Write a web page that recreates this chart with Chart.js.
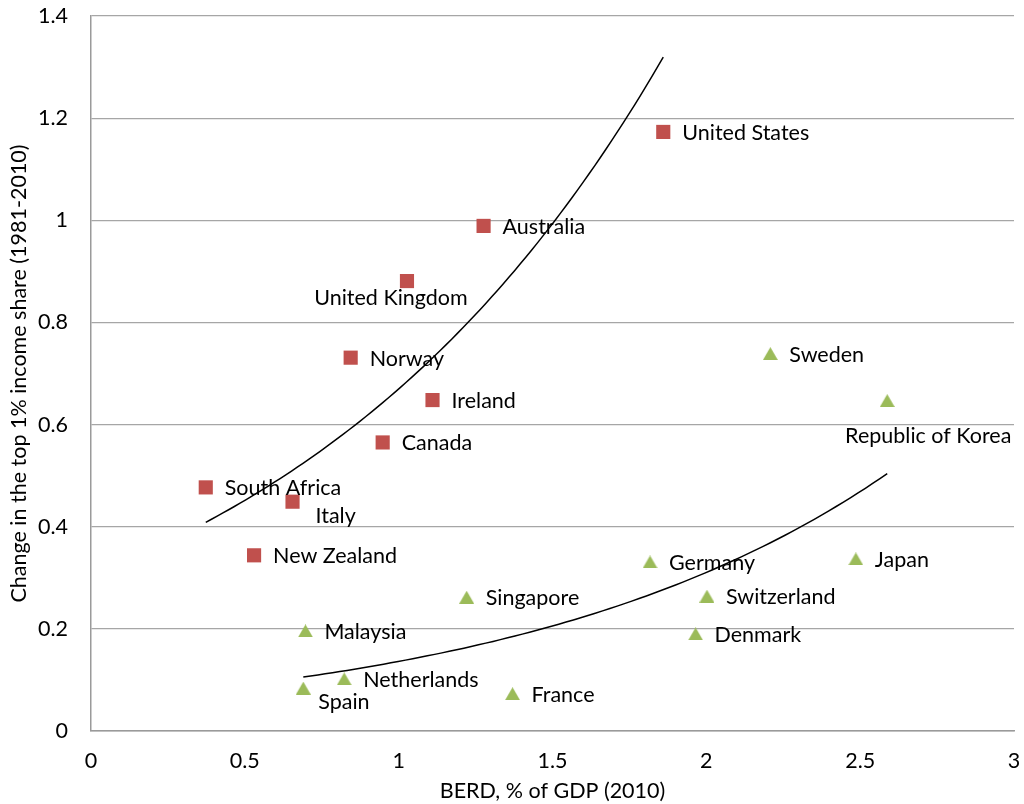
<!DOCTYPE html>
<html>
<head>
<meta charset="utf-8">
<script src="https://cdn.jsdelivr.net/npm/chart.js@4/dist/chart.umd.min.js"></script>
<style>
  html, body { margin: 0; padding: 0; background: #fff; }
  #wrap { width: 1024px; height: 804px; }
</style>
</head>
<body>
<div id="wrap"><canvas id="chart" width="1024" height="804"></canvas></div>
<script>
// high-inequality-growth group (red squares)
const redNames = ['United States', 'Australia', 'United Kingdom', 'Norway', 'Ireland',
                  'Canada', 'South Africa', 'Italy', 'New Zealand'];
const redBerd  = [1.860, 1.276, 1.027, 0.844, 1.110, 0.948, 0.373, 0.655, 0.530];
const redShare = [1.173, 0.989, 0.881, 0.731, 0.648, 0.565, 0.477, 0.449, 0.344];

// green triangles
const greenNames = ['Sweden', 'Republic of Korea', 'Germany', 'Japan', 'Singapore',
                    'Switzerland', 'Malaysia', 'Denmark', 'Netherlands', 'Spain', 'France'];
const greenBerd  = [2.208, 2.588, 1.817, 2.486, 1.221, 2.002, 0.697, 1.965, 0.823, 0.690, 1.370];
const greenShare = [0.739, 0.647, 0.331, 0.337, 0.262, 0.264, 0.196, 0.190, 0.102, 0.084, 0.073];

const xTicks = [0, 0.5, 1, 1.5, 2, 2.5, 3];
const yTicks = [0, 0.2, 0.4, 0.6, 0.8, 1, 1.2, 1.4];

const RED = '#C0504D';
const GREEN = '#9BBB59';
const FONT = 'Lato';
const FS = 21.5;

// exponential trend (least squares on ln y), like a spreadsheet trendline
function expTrend(xs, ys, steps) {
  const n = xs.length;
  const ly = ys.map(v => Math.log(v));
  const mx = xs.reduce((a, b) => a + b) / n;
  const my = ly.reduce((a, b) => a + b) / n;
  let sxy = 0, sxx = 0;
  xs.forEach((x, i) => { sxy += (x - mx) * (ly[i] - my); sxx += (x - mx) * (x - mx); });
  const b = sxy / sxx;
  const a = Math.exp(my - b * mx);
  const lo = Math.min(...xs), hi = Math.max(...xs);
  const out = [];
  for (let i = 0; i <= steps; i++) {
    const x = lo + (hi - lo) * i / steps;
    out.push({ x, y: a * Math.exp(b * x) });
  }
  return out;
}

function triangleMarker(color) {
  const c = document.createElement('canvas');
  c.width = 15; c.height = 13;
  const g = c.getContext('2d');
  g.fillStyle = color;
  g.beginPath();
  g.moveTo(7.5, 0);
  g.lineTo(15, 13);
  g.lineTo(0, 13);
  g.closePath();
  g.fill();
  return c;
}

const pts = (xs, ys) => xs.map((x, i) => ({ x, y: ys[i] }));

// label placement: default is to the right of the marker
const labelPos = {
  'United Kingdom':    { dx: -16, dy: 17, align: 'center' },
  'Italy':             { dx: 23, dy: 14 },
  'Spain':             { dx: 15, dy: 14 },
  'Republic of Korea': { dx: 41, dy: 35, align: 'center' }
};

const pointLabels = {
  id: 'pointLabels',
  afterDatasetsDraw(chart) {
    const ctx = chart.ctx;
    ctx.save();
    ctx.font = `${FS}px ${FONT}`;
    ctx.fillStyle = '#000';
    ctx.textBaseline = 'middle';
    chart.data.datasets.forEach((ds, di) => {
      if (!ds.names) return;
      chart.getDatasetMeta(di).data.forEach((el, i) => {
        const name = ds.names[i];
        const p = labelPos[name] || { dx: 19, dy: 1 };
        ctx.textAlign = p.align || 'left';
        ctx.fillText(name, el.x + p.dx, el.y + p.dy);
      });
    });
    ctx.restore();
  }
};

function noPad(s) {
  s.paddingTop = 0; s.paddingBottom = 0; s.paddingLeft = 0; s.paddingRight = 0;
}

new Chart(document.getElementById('chart'), {
  type: 'scatter',
  data: {
    datasets: [
      {
        data: expTrend(redBerd, redShare, 80),
        showLine: true, borderColor: '#000', borderWidth: 1.5,
        pointRadius: 0, fill: false, order: 1
      },
      {
        data: expTrend(greenBerd, greenShare, 80),
        showLine: true, borderColor: '#000', borderWidth: 1.5,
        pointRadius: 0, fill: false, order: 1
      },
      {
        data: pts(redBerd, redShare), names: redNames,
        pointStyle: 'rect', pointRadius: 10, pointHoverRadius: 10,
        backgroundColor: RED, borderColor: RED, borderWidth: 0, order: 2
      },
      {
        data: pts(greenBerd, greenShare), names: greenNames,
        pointStyle: triangleMarker(GREEN), pointRadius: 8,
        backgroundColor: GREEN, borderColor: GREEN, borderWidth: 0, order: 2
      }
    ]
  },
  options: {
    responsive: false,
    animation: false,
    layout: { padding: { top: 16, right: 5, left: 0, bottom: 0 } },
    plugins: { legend: { display: false }, tooltip: { enabled: false } },
    scales: {
      x: {
        min: 0, max: 3,
        afterBuildTicks: s => { s.ticks = xTicks.map(v => ({ value: v })); },
        afterFit: s => { s.height = 73; noPad(s); },
        grid: { display: false, drawTicks: false },
        border: { display: true, color: '#9a9a9a', width: 1.5 },
        ticks: { padding: 17, color: '#000', font: { family: FONT, size: FS }, maxRotation: 0,
                 callback: v => String(v) },
        title: { display: true, text: 'BERD, % of GDP (2010)', color: '#000',
                 font: { family: FONT, size: FS }, padding: { top: 0, bottom: 0 } }
      },
      y: {
        min: 0, max: 1.4,
        afterBuildTicks: s => { s.ticks = yTicks.map(v => ({ value: v })); },
        afterFit: s => { s.width = 91; noPad(s); },
        grid: { color: '#a6a6a6', lineWidth: 1.2, drawTicks: false },
        border: { display: true, color: '#9a9a9a', width: 1.5 },
        ticks: { padding: 23, color: '#000', font: { family: FONT, size: FS },
                 callback: v => String(v) },
        title: { display: true, text: 'Change in the top 1% income share (1981-2010)', color: '#000',
                 font: { family: FONT, size: FS }, padding: { top: 6, bottom: 0 } }
      }
    }
  },
  plugins: [pointLabels]
});
</script>
</body>
</html>
